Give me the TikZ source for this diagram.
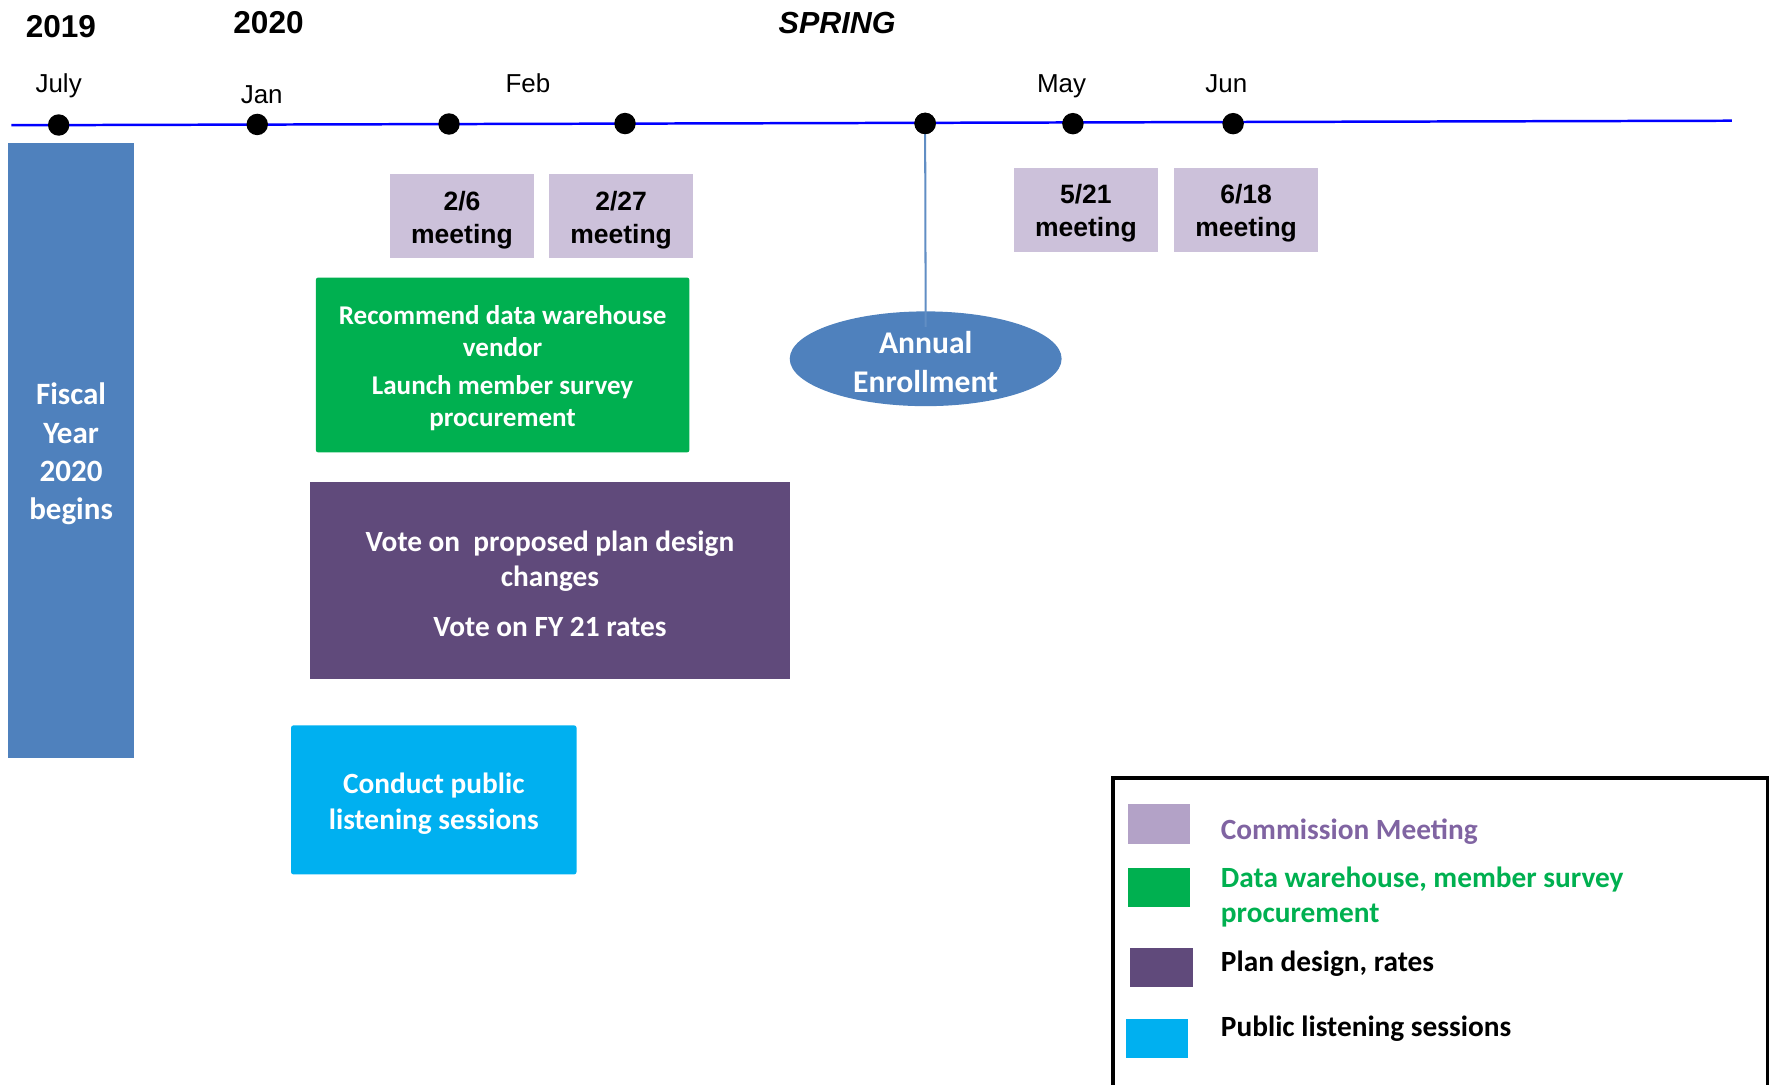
\documentclass[tikz,border=0pt]{standalone}
\usepackage{fontspec}
\setmainfont{Carlito}
\newfontfamily\arialf{Liberation Sans}
\usetikzlibrary{shapes.geometric}
\definecolor{tlblue}{HTML}{0000FF}
\definecolor{fyblue}{HTML}{4F81BD}
\definecolor{meetc}{HTML}{CCC1DA}
\definecolor{grn}{HTML}{00B050}
\definecolor{purp}{HTML}{604A7B}
\definecolor{cyanc}{HTML}{00B0F0}
\definecolor{lgmeet}{HTML}{B3A2C7}
\definecolor{lgmeettxt}{HTML}{8064A2}
\begin{document}
\begin{tikzpicture}[x=1pt,y=-1pt,
  tdot/.style={circle, fill=black, inner sep=0pt, minimum size=19pt},
  month/.style={font=\arialf\fontsize{23}{27}\selectfont},
  yearlbl/.style={font=\arialf\bfseries\fontsize{28}{32}\selectfont},
  meet/.style={fill=meetc, minimum width=127pt, minimum height=75pt, inner sep=0pt},
  meettxt/.style={inner sep=0pt, align=center, font=\arialf\bfseries\fontsize{23.5}{29}\selectfont},
  box/.style={inner sep=0pt},
  boxtxt/.style={inner sep=0pt, align=center, text=white},
  swatch/.style={minimum width=55pt, minimum height=35pt, inner sep=0pt},
  lgtext/.style={anchor=west, inner sep=0pt, align=left, font=\bfseries\fontsize{26}{31}\selectfont}
]
\useasboundingbox (0,0) rectangle (1568,961);

% timeline
\coordinate (tlstart) at (10,111);
\coordinate (tlend) at (1535,107);
\draw[tlblue, line width=2.2pt] (tlstart) -- (tlend);

% year labels
\node[yearlbl] (y2019) at (54,24) {2019};
\node[yearlbl] (y2020) at (238,20) {2020};
\node[yearlbl, font=\arialf\bfseries\itshape\fontsize{27}{32}\selectfont] (spring) at (742,20) {SPRING};

% months
\node[month] (mjul) at (52,76) {July};
\node[month] (mjan) at (232,84) {Jan};
\node[month] (mfeb) at (468,74) {Feb};
\node[month] (mmay) at (941,76.5) {May};
\node[month] (mjun) at (1087,74) {Jun};

% fiscal year box
\node[box, fill=fyblue, minimum width=112pt, minimum height=545pt] (fy) at (63,399.5) {};
\node[boxtxt, font=\bfseries\fontsize{27.5}{34}\selectfont] (fyt) at ([yshift=-3pt]fy.center) {Fiscal\\Year\\2020\\begins};

% meeting boxes
\node[meet] (m26) at (409.5,191.5) {};
\node[meet] (m227) at (550.5,191.5) {};
\node[meet] (m521) at (962.5,186) {};
\node[meet] (m618) at (1104.5,186) {};
\node[meettxt] (m26t) at ([yshift=-3.5pt]m26.center) {2/6\\meeting};
\node[meettxt] (m227t) at ([yshift=-3.5pt]m227.center) {2/27\\meeting};
\node[meettxt] (m521t) at ([yshift=-3pt]m521.center) {5/21\\meeting};
\node[meettxt] (m618t) at ([yshift=-3pt]m618.center) {6/18\\meeting};

% task boxes
\node[box, fill=grn, rounded corners=2pt, minimum width=331pt, minimum height=155pt] (green) at (445.5,323.5) {};
\node[boxtxt, font=\bfseries\fontsize{24}{28}\selectfont] (greent) at ([yshift=-3pt]green.center)
      {Recommend data warehouse\\vendor\\[6pt]Launch member survey\\procurement};
\node[box, fill=purp, minimum width=425pt, minimum height=175pt] (purple) at (487.5,514.5) {};
\node[boxtxt, font=\bfseries\fontsize{26}{31}\selectfont] (purplet) at ([yshift=-3pt]purple.center)
      {Vote on\ \ proposed plan design\\changes\\[14pt]Vote on FY 21 rates};
\node[box, fill=cyanc, rounded corners=2pt, minimum width=253pt, minimum height=132pt] (cyanbox) at (384.5,709) {};
\node[boxtxt, font=\bfseries\fontsize{26}{32}\selectfont] (cyant) at ([yshift=-3pt]cyanbox.center)
      {Conduct public\\listening sessions};

% dots
\node[tdot] (d1) at (52,110.8) {};
\node[tdot] (d2) at (228,110.3) {};
\node[tdot] (d3) at (398,109.9) {};
\node[tdot] (d4) at (554,109.5) {};
\node[tdot] (d5) at (820,109.4) {};
\node[tdot] (d6) at (951,109.6) {};
\node[tdot] (d7) at (1093,109.6) {};

% annual enrollment
\node[ellipse, fill=fyblue, minimum width=241pt, minimum height=84pt, inner sep=0pt] (enroll) at (820.5,318) {};
\draw[fyblue!90!white, line width=1.8pt] (d5.center) -- ([yshift=-14pt]enroll.north);
\node[tdot] (d5top) at (d5) {};
\node[boxtxt, font=\bfseries\fontsize{28}{34}\selectfont] (enrollt) at ([yshift=-3pt]enroll.center) {Annual\\Enrollment};

% legend
\node[draw=black, line width=3.5pt, minimum width=581pt, minimum height=300pt, inner sep=0pt, anchor=north west] (legend) at (984.5,687.5) {};
\node[swatch, fill=lgmeet] (s1) at (1027.5,730.5) {};
\node[swatch, fill=grn] (s2) at (1027.5,786.5) {};
\node[swatch, fill=purp] (s3) at (1029.5,857.5) {};
\node[swatch, fill=cyanc] (s4) at (1025.5,920.5) {};
\node[lgtext, text=lgmeettxt] (t1) at (1082,737) {Commission Meeting};
\node[lgtext, text=grn] (t2) at (1082,795) {Data warehouse, member survey\\procurement};
\node[lgtext] (t3) at (1082,854) {Plan design, rates};
\node[lgtext] (t4) at (1082,912) {Public listening sessions};
\end{tikzpicture}
\end{document}
